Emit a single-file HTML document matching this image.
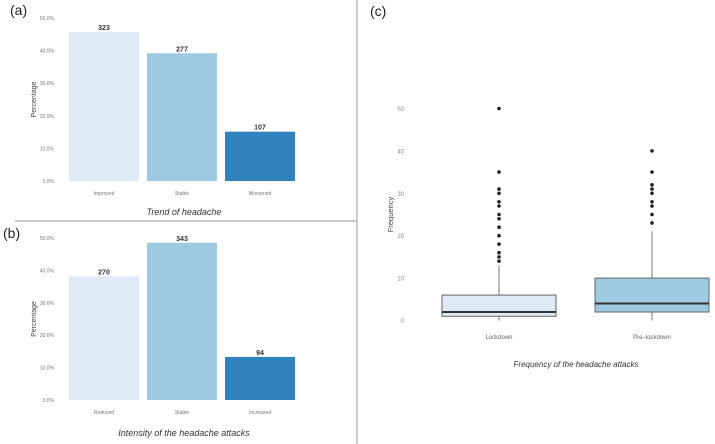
<!DOCTYPE html>
<html><head><meta charset="utf-8"><style>
body{margin:0;background:#fff;width:715px;height:444px;overflow:hidden;font-family:"Liberation Sans",sans-serif}
svg{display:block}
</style></head><body>
<svg width="715" height="444" font-family="Liberation Sans, sans-serif">
<line x1="15" y1="221" x2="357" y2="221" stroke="#999" stroke-width="1"/>
<line x1="357" y1="0" x2="357" y2="444" stroke="#999" stroke-width="1"/>
<text x="10" y="15" font-size="14" fill="#222">(a)</text>
<text x="3" y="238" font-size="14" fill="#222">(b)</text>
<text x="370" y="16" font-size="14" fill="#222">(c)</text>
<g id="pa"></g>
<g id="pb"></g>
<g id="pc"></g>
</svg>
<script>
const catsA=["Improved","Stable","Worsened"];
const countsA=[323,277,107];
const catsB=["Reduced","Stable","Increased"];
const countsB=[270,343,94];
const pctTicks=[0,10,20,30,40,50];
const pctTickLabels=["0.0%","10.0%","20.0%","30.0%","40.0%","50.0%"];
const boxCats=["Lockdown","Pre\u2013lockdown"];
const boxQ1=[1,2];
const boxMed=[2,4];
const boxQ3=[6,10];
const boxWLo=[0,0];
const boxWHi=[13,21];
const outLock=[14,15,16,18,20,22,24,25,27,28,30,31,35,50];
const outPre=[23,25,27,28,30,31,32,35,40];
const freqTicks=[0,10,20,30,40,50];
const colors=["#deebf7","#9ecae1","#3182bd"];
const NS="http://www.w3.org/2000/svg";
function mk(p,t,a,txt){const e=document.createElementNS(NS,t);for(const k in a)e.setAttribute(k,a[k]);if(txt!==undefined)e.textContent=txt;p.appendChild(e);return e;}

function barChart(g,cats,counts,y0,y50,labY,title,titleY){
  const tot=counts.reduce((a,b)=>a+b,0);
  const y=v=>y0+(y50-y0)*v/50;
  const x=i=>69+i*78;
  pctTicks.forEach((t,i)=>{const e=mk(g,"text",{x:54,y:y(t)+2,"font-size":"5","text-anchor":"end",fill:"#777"},pctTickLabels[i]);
    });
  const yl=mk(g,"text",{transform:`translate(36,${(y0+y50)/2}) rotate(-90)`,"font-size":"7","text-anchor":"middle",fill:"#444"},"Percentage");
  
  counts.forEach((c,i)=>{const p=c/tot*100;
    const r=mk(g,"rect",{x:x(i),y:y(p),width:70,height:y0-y(p),fill:colors[i]});
    
    const t=mk(g,"text",{x:x(i)+35,y:y(p)-2,"font-size":"7","font-weight":"bold","text-anchor":"middle",fill:"#333"},String(c));
    
    const l=mk(g,"text",{x:x(i)+35,y:labY,"font-size":"5","text-anchor":"middle",fill:"#777"},cats[i]);
    });
  const tt=mk(g,"text",{x:184,y:titleY,"font-size":"9","font-style":"italic","text-anchor":"middle",fill:"#333"},title);
  
}
barChart(document.getElementById("pa"),catsA,countsA,181,18,195,"Trend of headache",215);
barChart(document.getElementById("pb"),catsB,countsB,400,238,414,"Intensity of the headache attacks",436);

(function(){
  const g=document.getElementById("pc");
  const y=v=>320.5-v*4.24;
  const cx=i=>499+i*153;
  freqTicks.forEach(t=>{const e=mk(g,"text",{x:404,y:y(t)+2.5,"font-size":"6","text-anchor":"end",fill:"#888"},String(t));
    });
  const yl=mk(g,"text",{transform:`translate(393,${y(25)}) rotate(-90)`,"font-size":"7.5","text-anchor":"middle",fill:"#444"},"Frequency");
  
  const outs=[outLock,outPre];
  boxCats.forEach((c,i)=>{const x=cx(i);
    const w=mk(g,"line",{x1:x,x2:x,y1:y(boxWLo[i]),y2:y(boxWHi[i]),stroke:"#777","stroke-width":"1"});
    
    const b=mk(g,"rect",{x:x-57,y:y(boxQ3[i]),width:114,height:y(boxQ1[i])-y(boxQ3[i]),fill:colors[i],stroke:"#666","stroke-width":"1"});
    
    const m=mk(g,"line",{x1:x-57,x2:x+57,y1:y(boxMed[i]),y2:y(boxMed[i]),stroke:"#333","stroke-width":"2"});
    
    outs[i].forEach(v=>{const o=mk(g,"circle",{cx:x,cy:y(v),r:1.8,fill:"#222"});
      });
    const l=mk(g,"text",{x:x,y:339,"font-size":"6","text-anchor":"middle",fill:"#666"},c);
    });
  const tt=mk(g,"text",{x:576,y:367,"font-size":"8","font-style":"italic","text-anchor":"middle",fill:"#333"},"Frequency of the headache attacks");
  
})();
</script>
</body></html>
